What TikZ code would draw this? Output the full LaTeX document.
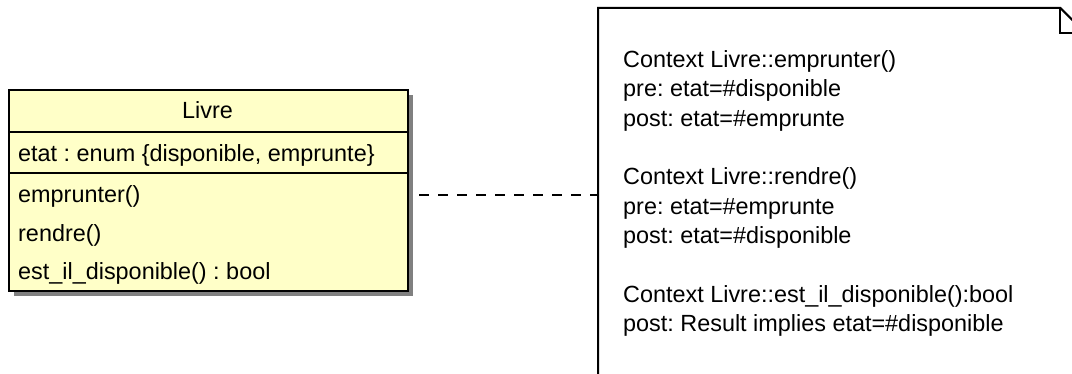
\documentclass[tikz,border=0pt]{standalone}
\usepackage{fontspec}
\setmainfont{Liberation Sans}
\usetikzlibrary{positioning,shadows}
\definecolor{LYellow}{HTML}{FFFFC8}
\definecolor{LShadow}{HTML}{808080}
\frenchspacing

\begin{document}
\begin{tikzpicture}[
  x=1pt,y=-1pt,
  every node/.style={font=\fontsize{23.4}{29.5}\selectfont,inner sep=0pt},
  classbox/.style={draw=black,line width=2pt,fill=LYellow,
    minimum width=399pt,minimum height=201pt,
    drop shadow={shadow xshift=5pt,shadow yshift=-5pt,fill=LShadow,opacity=1}},
  member/.style={anchor=base west},
  compsep/.style={line width=1.2pt},
  notebox/.style={minimum width=487pt,minimum height=420pt},
  noteline/.style={line width=2pt,line join=miter},
  link/.style={dash pattern=on 10pt off 9pt,line width=1.8pt}
]
  \clip (0,0) rectangle (1072,374);

  % class Livre
  \node[classbox,anchor=north west] (livre) at (8,89) {};
  \node[anchor=base] (title) at (207.5,119) {Livre};
  \draw[compsep] (livre.west |- 0,132) -- (livre.east |- 0,132);
  \node[member] (etat) at (18,162) {etat : enum \{disponible, emprunte\}};
  \draw[compsep] (livre.west |- 0,173) -- (livre.east |- 0,173);
  \node[member] (emprunter) at (18,203) {emprunter()};
  \node[member] (rendre) at (18,241.5) {rendre()};
  \node[member] (dispo) at (18,280) {est\_il\_disponible() : bool};

  % OCL note
  \node[notebox,anchor=north west] (note) at (598,8) {};
  \draw[noteline] (note.north west) -- ([xshift=-25pt]note.north east)
    -- ([yshift=-25pt]note.north east) -- (note.south east)
    -- (note.south west) -- cycle;
  \draw[noteline] ([xshift=-25pt]note.north east) |- ([yshift=-25pt]note.north east);
  \node[anchor=north west,align=left] (ocl) at (623,50)
    {Context Livre::emprunter()\\pre: etat=\#disponible\\post: etat=\#emprunte\\[29pt]
     Context Livre::rendre()\\pre: etat=\#emprunte\\post: etat=\#disponible\\[29pt]
     Context Livre::est\_il\_disponible():bool\\post: Result implies etat=\#disponible};

  \draw[link] ([xshift=10pt,yshift=-4.5pt]livre.east) -- ([yshift=-4.5pt]livre.east -| note.west);
\end{tikzpicture}
\end{document}
